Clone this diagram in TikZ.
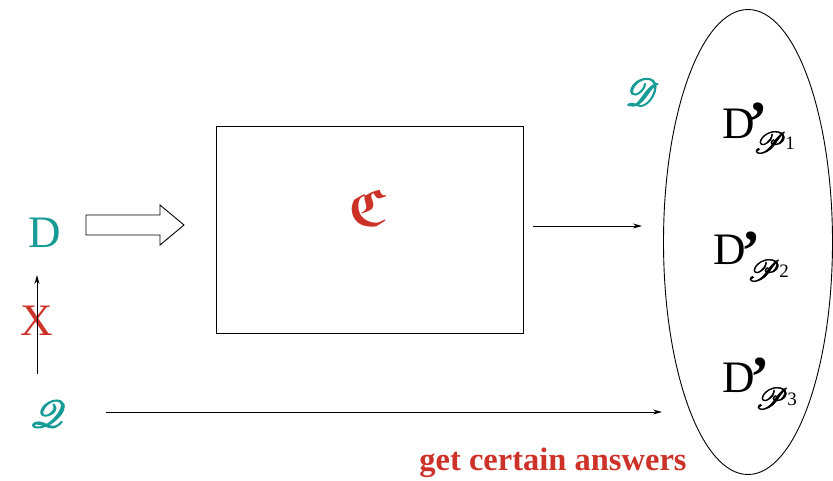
\documentclass[tikz,border=0pt]{standalone}
\usepackage{amsmath,amssymb}
\usepackage{mathrsfs}
\usepackage{graphicx}
\usepackage{fontspec}
\setmainfont{Liberation Serif}
\usetikzlibrary{arrows.meta,shapes.geometric}
\definecolor{teal1}{RGB}{22,155,150}
\definecolor{red1}{RGB}{205,50,40}
\tikzset{
  big/.style={font=\fontsize{45}{50}\selectfont, inner sep=0pt},
  tip/.style={-{Stealth[length=9pt,width=5pt]}, line width=0.9pt},
  dbase/.style={font=\fontsize{45}{50}\selectfont, inner sep=0pt, anchor=base west},
  dprm/.style={font=\fontsize{58}{60}\selectfont\bfseries, inner sep=0pt, anchor=base west},
  dsub/.style={font=\fontsize{19}{20}\selectfont, inner sep=0pt, anchor=base west},
}
\newcommand{\fkbold}[2]{\special{pdf:literal direct 2 Tr #1 w}#2\special{pdf:literal direct 0 Tr}}
\newcommand{\subP}[1]{\raisebox{-4pt}{\scalebox{1.75}{\fkbold{0.35}{$\mathscr{P}$}}}\kern-1pt#1}
\begin{document}
\begin{tikzpicture}[x=1pt,y=-1pt]
\useasboundingbox (0,0) rectangle (833,480);
% box
\node[draw, line width=0.9pt, minimum width=307pt, minimum height=207pt, inner sep=0pt] (box) at (369.5,229.5) {};
\node[inner sep=0pt, text=red1, font=\fontsize{52}{56}\selectfont] (C) at (367,208) {$\boldsymbol{\mathfrak{C}}$};
% left labels
\node[big, text=teal1] (D) at (45,233) {D};
\node[big, text=red1] (X) at (37,321) {X};
\node[inner sep=0pt, text=teal1] (Q) at (48,414) {\scalebox{3.8}{\fkbold{0.3}{$\mathscr{Q}$}}};
% block arrow
\draw[line width=0.9pt] (86,215) -- (160,215) -- (160,205) -- (184,225) -- (160,245) -- (160,235) -- (86,235) -- cycle;
% vertical arrow
\coordinate (vs) at (37,374);
\coordinate (ve) at (37,275);
\draw[tip] (vs) -- (ve);
% horizontal arrows
\coordinate (q1) at (106,412);
\coordinate (q2) at (662,412);
\draw[tip] (q1) -- (q2);
\coordinate (b1) at (533,226);
\coordinate (b2) at (642,226);
\draw[tip] (b1) -- (b2);
% ellipse
\node[draw, line width=0.9pt, ellipse, minimum width=169pt, minimum height=465pt, inner sep=0pt] (E) at (748,242) {};
\node[inner sep=0pt, text=teal1] (SD) at (642,92) {\scalebox{3.8}{\fkbold{0.3}{$\mathscr{D}$}}};
% D'_P1
\node[dbase] (d1) at (722,138) {D};
\node[dprm] (d1p) at (748,141) {’};
\node[dsub] (d1s) at (753,149) {\subP{1}};
% D'_P2
\node[dbase] (d2) at (713,264) {D};
\node[dprm] (d2p) at (741,270) {’};
\node[dsub] (d2s) at (747,277) {\subP{2}};
% D'_P3
\node[dbase] (d3) at (722,392) {D};
\node[dprm] (d3p) at (750,396) {’};
\node[dsub] (d3s) at (755,405) {\subP{3}};
\node[inner sep=0pt, text=red1, font=\fontsize{32.5}{36}\selectfont\bfseries] (gca) at (553,463) {get certain answers};
\end{tikzpicture}
\end{document}
